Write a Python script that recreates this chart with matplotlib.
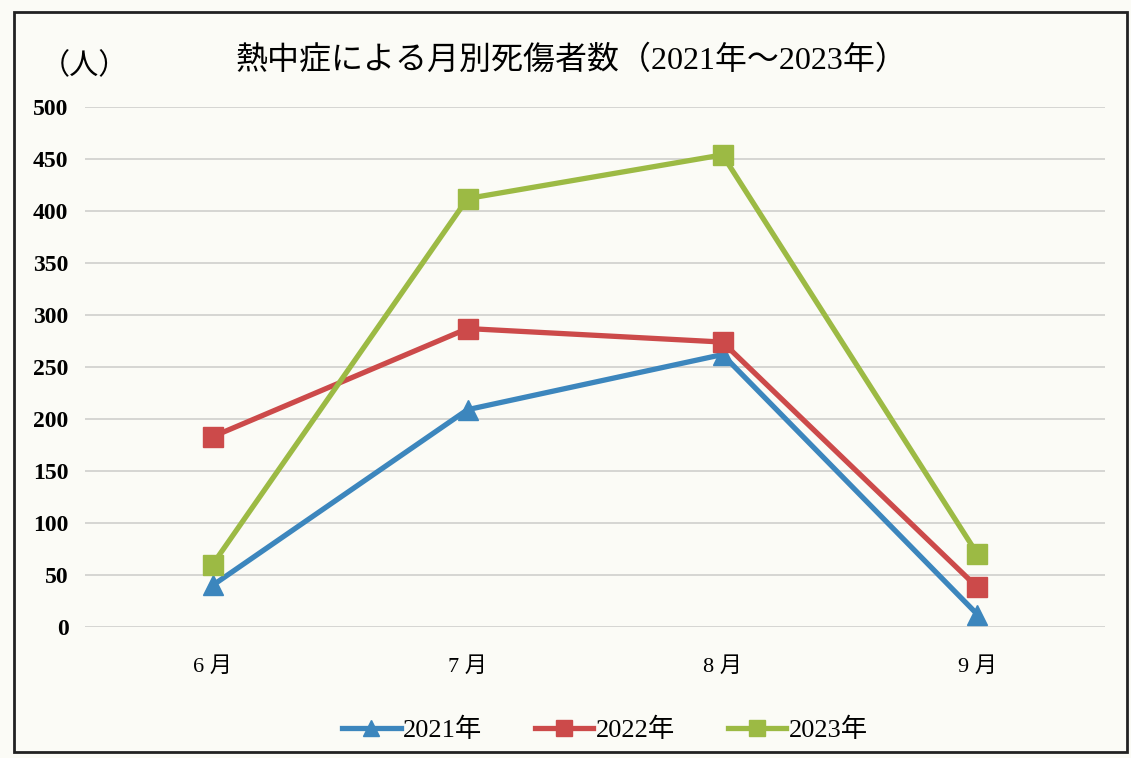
import matplotlib.pyplot as plt
from matplotlib.patches import Rectangle

# data
months = ['6 月', '7 月', '8 月', '9 月']
y2021 = [40, 209, 262, 12]
y2022 = [183, 287, 274, 38]
y2023 = [60, 412, 454, 70]
yticks = [0, 50, 100, 150, 200, 250, 300, 350, 400, 450, 500]

fam = ['Liberation Serif', 'Noto Sans CJK JP']
plt.rcParams['font.family'] = fam

fig = plt.figure(figsize=(11.31, 7.58), dpi=100)
fig.patch.set_facecolor('#fbfbf6')
ax = fig.add_axes([0.0752, 0.1728, 0.9018, 0.686])
ax.set_facecolor('#fbfbf6')

x = range(len(months))
series = [
    (y2021, '#3c86bd', '^', '2021年'),
    (y2022, '#cc4a4a', 's', '2022年'),
    (y2023, '#9cba44', 's', '2023年'),
]
for vals, col, mk, lab in series:
    ax.plot(x, vals, color=col, lw=3.8, marker=mk, ms=15, mec=col, mfc=col,
            label=lab, zorder=3)

ax.set_xlim(-0.5, 3.5)
ax.set_ylim(0, 500)
ax.set_yticks(yticks)
ax.set_yticklabels([str(v) for v in yticks], fontsize=17, fontweight='bold')
ax.set_xticks(list(x))
ax.set_xticklabels(months, fontsize=16)
ax.tick_params(axis='both', length=0)
ax.tick_params(axis='y', pad=12)
ax.tick_params(axis='x', pad=22)
ax.grid(axis='y', color='#cfcfcc', lw=1.2)
for s in ax.spines.values():
    s.set_visible(False)

fig.text(0.505, 0.92, '熱中症による月別死傷者数（2021年～2023年）', ha='center', va='center',
         fontsize=23)
fig.text(0.075, 0.912, '（人）', ha='center', va='center', fontsize=21)

leg = fig.legend(loc='center', bbox_to_anchor=(0.535, 0.037), ncol=3, frameon=False,
                 fontsize=19, handlelength=2.2, columnspacing=2.0, handletextpad=0.1,
                 markerscale=0.8)

# border around the chart
fig.add_artist(Rectangle((0.0125, 0.008), 0.984, 0.976, transform=fig.transFigure,
                         fill=False, ec='#222222', lw=2))

fig.savefig('out.png', dpi=100, facecolor=fig.get_facecolor())
